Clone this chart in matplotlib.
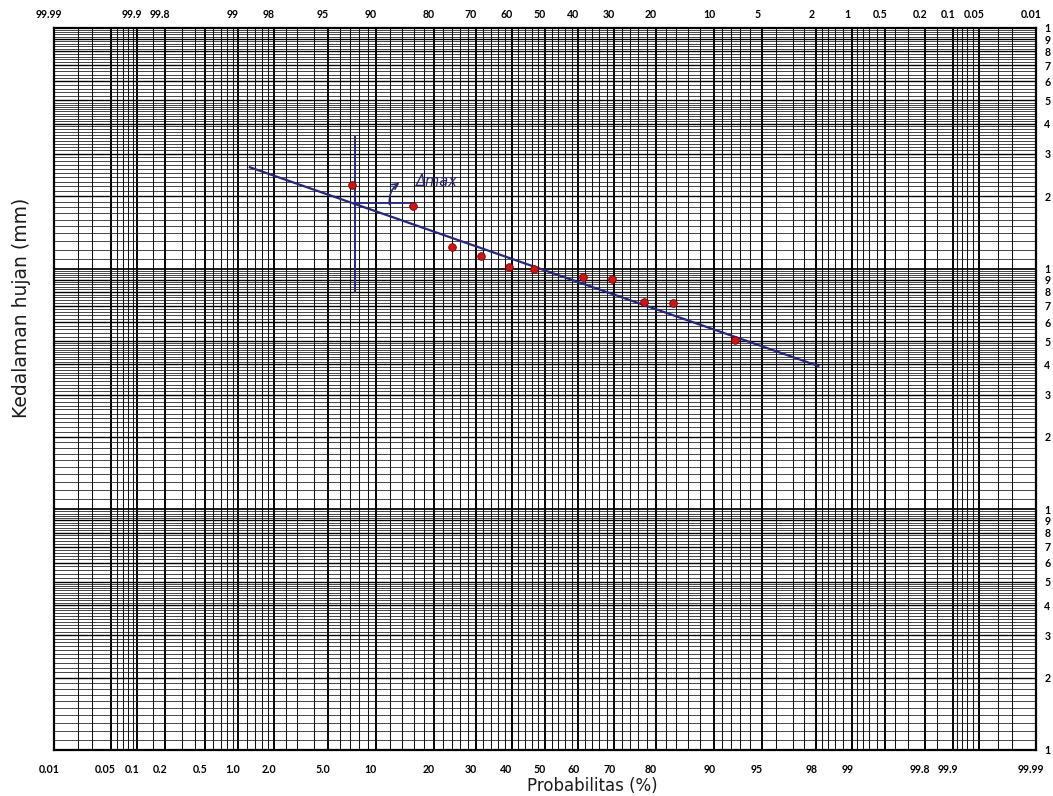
import math
import numpy as np
import matplotlib
matplotlib.use("Agg")
import matplotlib.pyplot as plt
from matplotlib.transforms import ScaledTranslation

# observed series: plotting position (%) and rainfall depth (mm)
prob = [7.2, 15.9, 24.0, 31.3, 39.3, 46.8, 61.4, 69.4, 77.4, 83.3, 92.5]
depth = [222.7, 182.2, 123.4, 112.9, 101.9, 100.0, 92.1, 90.6, 72.5, 71.8, 50.5]

# fitted line (end points)
fit_prob = [1.27, 98.08]
fit_depth = [263.8, 39.4]

# Dmax construction lines
dmax_prob = 7.5
dmax_span = [80.2, 353.5]
dmax_level = 187.0
dmax_end = 15.6

# printed scale of the probability paper
bottom_ticks = [0.01, 0.05, 0.1, 0.2, 0.5, 1, 2, 5, 10, 20, 30, 40, 50, 60,
                70, 80, 90, 95, 98, 99, 99.8, 99.9, 99.99]
bottom_labels = ["0.01", "0.05", "0.1", "0.2", "0.5", "1.0", "2.0", "5.0",
                 "10", "20", "30", "40", "50", "60", "70", "80", "90", "95",
                 "98", "99", "99.8", "99.9", "99.99"]
top_ticks = [0.01, 0.1, 0.2, 1, 2, 5, 10, 20, 30, 40, 50, 60, 70, 80, 90,
             95, 98, 99, 99.5, 99.8, 99.9, 99.95, 99.99]
top_labels = ["99.99", "99.9", "99.8", "99", "98", "95", "90", "80", "70",
              "60", "50", "40", "30", "20", "10", "5", "2", "1", "0.5",
              "0.2", "0.1", "0.05", "0.01"]

# vertical rulings of the paper
heavy_p = [0.05, 0.1, 0.2, 0.5, 1, 2, 5, 10, 20, 30, 40, 50, 60, 70, 80, 90,
           95, 98, 99, 99.5, 99.8, 99.9, 99.95]
left_half = ([0.02, 0.03, 0.06, 0.07, 0.08, 0.09, 0.15, 0.3, 0.4,
              0.6, 0.7, 0.8, 0.9, 1.2, 1.4, 1.6, 1.8, 2.5, 3, 4,
              6, 7, 8, 9, 12, 14, 16, 18]
             + [float(v) for v in range(22, 50, 2) if v % 10])
light_p = left_half + [round(100 - v, 4) for v in left_half]


def norm_ppf(p):
    p = np.asarray(p, dtype=float)
    shape = p.shape
    p = np.clip(np.atleast_1d(p).ravel(), 1e-12, 1 - 1e-12)
    a = [-3.969683028665376e+01, 2.209460984245205e+02, -2.759285104469687e+02,
         1.383577518672690e+02, -3.066479806614716e+01, 2.506628277459239e+00]
    b = [-5.447609879822406e+01, 1.615858368580409e+02, -1.556989798598866e+02,
         6.680131188771972e+01, -1.328068155288572e+01]
    c = [-7.784894002430293e-03, -3.223964580411365e-01, -2.400758277161838e+00,
         -2.549671071328837e+00, 4.374664141464968e+00, 2.938163982698783e+00]
    d = [7.784695709041462e-03, 3.224671290700398e-01, 2.445134137142996e+00,
         3.754408661907416e+00]
    plow = 0.02425
    z = np.empty_like(p)
    lo = p < plow
    hi = p > 1 - plow
    mid = ~(lo | hi)
    q = np.sqrt(-2 * np.log(p[lo]))
    z[lo] = ((((((c[0]*q + c[1])*q + c[2])*q + c[3])*q + c[4])*q + c[5])
             / ((((d[0]*q + d[1])*q + d[2])*q + d[3])*q + 1))
    q = np.sqrt(-2 * np.log(1 - p[hi]))
    z[hi] = -((((((c[0]*q + c[1])*q + c[2])*q + c[3])*q + c[4])*q + c[5])
              / ((((d[0]*q + d[1])*q + d[2])*q + d[3])*q + 1))
    q = p[mid] - 0.5
    r = q * q
    z[mid] = ((((((a[0]*r + a[1])*r + a[2])*r + a[3])*r + a[4])*r + a[5]) * q
              / (((((b[0]*r + b[1])*r + b[2])*r + b[3])*r + b[4])*r + 1))
    return z.reshape(shape)


_erf = np.vectorize(math.erf)


def pct_to_z(x):
    return norm_ppf(np.asarray(x, dtype=float) / 100.0)


def z_to_pct(z):
    return 50.0 * (1.0 + _erf(np.asarray(z, dtype=float) / math.sqrt(2.0)))


plt.rcParams["font.family"] = ["DejaVu Sans"]
tick_font = dict(family="Lato", weight="bold", size=7.6)

fig = plt.figure(figsize=(10.53, 7.96), dpi=100)
ax = fig.add_axes([54 / 1053, 1 - 750 / 796, 982 / 1053, 722 / 796])
ax.set_xscale("function", functions=(pct_to_z, z_to_pct))
ax.set_yscale("log")
ax.set_xlim(0.01, 99.99)
ax.set_ylim(1, 1000)

# paper rulings
vx = ax.get_xaxis_transform()
ax.vlines(light_p, 0, 1, transform=vx, colors="#111111", lw=0.75, zorder=1)
ax.vlines(heavy_p, 0, 1, transform=vx, colors="#000000", lw=1.4, zorder=1)

hy = ax.get_yaxis_transform()
thin_y, mid_y, bold_y = [], [], []
for base in (1, 10, 100):
    for k in range(1, 10):
        (bold_y if k == 1 else mid_y).append(k * base)
    thin_y += [round(v, 3) * base for v in np.arange(1.1, 2.0, 0.1)]
    thin_y += [round(v, 3) * base for v in np.arange(2.1, 5.0, 0.1) if abs(v - round(v)) > 1e-6]
    thin_y += [round(v, 3) * base for v in np.arange(5.2, 10.0, 0.2) if abs(v - round(v)) > 1e-6]
ax.hlines(thin_y, 0, 1, transform=hy, colors="#151515", lw=0.55, zorder=1)
ax.hlines(mid_y, 0, 1, transform=hy, colors="#000000", lw=1.0, zorder=1)
ax.hlines(bold_y, 0, 1, transform=hy, colors="#000000", lw=1.25, zorder=1)

for s in ax.spines.values():
    s.set_linewidth(1.6)
    s.set_color("black")

# hand-drawn analysis
blue = "#26267f"
ax.plot(fit_prob, fit_depth, color=blue, lw=1.6, zorder=3)
ax.plot([dmax_prob, dmax_prob], dmax_span, color=blue, lw=1.4, zorder=3)
ax.plot([dmax_prob, dmax_end], [dmax_level, dmax_level], color=blue, lw=1.3, zorder=3)
ax.annotate("", xy=(13.9, 231), xytext=(12.0, 180),
            arrowprops=dict(arrowstyle="->", color=blue, lw=1.2,
                            connectionstyle="arc3,rad=-0.35"), zorder=4)
ax.text(20.7, 231, "\u0394max", color=blue, fontsize=10.5, style="italic",
        ha="center", va="center", zorder=4)
ax.plot(prob, depth, "o", color="#d01414", mec="#7a0000", mew=0.6, ms=5.5,
        ls="none", zorder=5)

# bottom probability labels
ax.set_xticks(bottom_ticks)
ax.set_xticklabels(bottom_labels, fontdict=tick_font)
ax.xaxis.set_minor_locator(plt.NullLocator())
ax.tick_params(axis="x", length=0, pad=10.0)

# right depth labels: leading digit of every ruling
yt = [k * base for base in (1, 10, 100) for k in range(1, 10)] + [1000]
ax.set_yticks(yt)
ax.set_yticklabels([str(int(round(v / 10 ** math.floor(math.log10(v) + 1e-9))))
                    for v in yt], fontdict=tick_font)
ax.yaxis.set_minor_locator(plt.NullLocator())
ax.yaxis.tick_right()
ax.tick_params(axis="y", length=0, pad=6)

# top probability labels (exceedance)
ax2 = ax.twiny()
ax2.set_xscale("function", functions=(pct_to_z, z_to_pct))
ax2.set_xlim(ax.get_xlim())
ax2.set_xticks(top_ticks)
ax2.set_xticklabels(top_labels, fontdict=tick_font)
ax2.xaxis.set_minor_locator(plt.NullLocator())
ax2.tick_params(axis="x", length=0, pad=6.0)
for s in ax2.spines.values():
    s.set_visible(False)

shift = ScaledTranslation(-5 / 100, 0, fig.dpi_scale_trans)
for lbl in ax.get_xticklabels() + ax2.get_xticklabels():
    lbl.set_transform(lbl.get_transform() + shift)

fig.text(22 / 1053, 1 - 308 / 796, "Kedalaman hujan (mm)", rotation=90,
         ha="center", va="center", fontsize=13.5, color="#1a1a1a")
fig.text(592 / 1053, 1 - 786 / 796, "Probabilitas (%)", ha="center",
         va="center", fontsize=12, color="#1a1a1a")

fig.savefig("out.png", dpi=100, facecolor="white")
